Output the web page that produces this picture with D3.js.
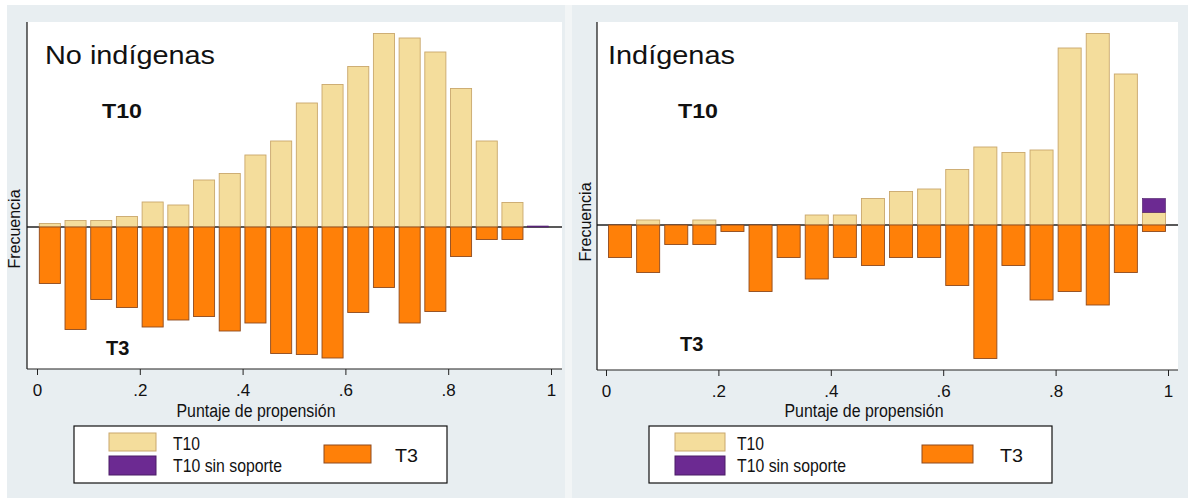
<!DOCTYPE html>
<html>
<head>
<meta charset="utf-8">
<script src="https://cdn.jsdelivr.net/npm/d3@7"></script>
<style>
  html, body { margin: 0; padding: 0; background: #ffffff; }
  svg { display: block; }
  text { font-family: "Liberation Sans", Arial, Helvetica, sans-serif; fill: #111; }
</style>
</head>
<body>
<svg id="chart" width="1188" height="502"></svg>
<script>
// ---------------- DATA ----------------
const binMid = [0.025, 0.075, 0.125, 0.175, 0.225, 0.275, 0.325, 0.375, 0.425, 0.475,
                0.525, 0.575, 0.625, 0.675, 0.725, 0.775, 0.825, 0.875, 0.925, 0.975];
const xTicks = [0, 0.2, 0.4, 0.6, 0.8, 1];
const xTickLabels = ["0", ".2", ".4", ".6", ".8", "1"];
const panelTitles = ["No indígenas", "Indígenas"];
const legendLabels = ["T10", "T10 sin soporte", "T3"];
const xTitle = "Puntaje de propensión";
const yTitle = "Frecuencia";

// No indígenas (density, T10 upward, T3 downward)
const noIndT10   = [0.07, 0.13, 0.13, 0.21, 0.50, 0.44, 0.94, 1.07, 1.44, 1.72,
                    2.48, 2.85, 3.21, 3.87, 3.78, 3.50, 2.77, 1.72, 0.49, 0.00];
const noIndT10ss = [0, 0, 0, 0, 0, 0, 0, 0, 0, 0, 0, 0, 0, 0, 0, 0, 0, 0, 0, 0.02];
const noIndT3    = [1.13, 2.05, 1.45, 1.61, 2.00, 1.86, 1.79, 2.08, 1.92, 2.53,
                    2.55, 2.62, 1.71, 1.21, 1.92, 1.69, 0.59, 0.25, 0.25, 0.00];

// Indígenas
const indT10   = [0.00, 0.10, 0.00, 0.10, 0.00, 0.00, 0.00, 0.20, 0.20, 0.53,
                  0.67, 0.72, 1.11, 1.56, 1.45, 1.50, 3.54, 3.83, 3.02, 0.25];
const indT10ss = [0, 0, 0, 0, 0, 0, 0, 0, 0, 0, 0, 0, 0, 0, 0, 0, 0, 0, 0, 0.28];
const indT3    = [0.65, 0.95, 0.39, 0.39, 0.13, 1.33, 0.65, 1.08, 0.65, 0.81,
                  0.65, 0.65, 1.21, 2.67, 0.81, 1.50, 1.33, 1.60, 0.95, 0.13];

// ---------------- STYLE / LAYOUT ----------------
const C = {
  bg: "#e8eef1", gap: "#f2f5f6",
  t10: "#f4dd9c", t10s: "#c9a76c",
  ss: "#6c2a92", sss: "#4b1d66",
  t3: "#ff8008", t3s: "#8e4a1e"
};
const binHalf = 0.0205;

const panels = [
  { title: panelTitles[0], t10: noIndT10, ss: noIndT10ss, t3: noIndT3,
    bg: [7, 5, 558, 493],
    plot: { l: 27, r: 562, t: 22, b: 369 }, xr: [37, 551], yd: [-2.84, 4.10],
    titlePos: [45, 64, 170], t10Lab: [102, 118, 40], t3Lab: [106, 355],
    yTitlePos: [20, 229], xTitlePos: [256, 417],
    legend: { x: 74, y: 426, w: 373, h: 57, sw1: [109, 433, 47, 18], sw2: [109, 456, 47, 19],
              tx: 173, sw3: [324, 445, 47, 18], t3x: 395 } },
  { title: panelTitles[1], t10: indT10, ss: indT10ss, t3: indT3,
    bg: [572, 5, 616, 493],
    plot: { l: 597, r: 1178, t: 22, b: 370 }, xr: [606, 1168], yd: [-2.90, 4.06],
    titlePos: [608, 64, 127], t10Lab: [678, 118, 40], t3Lab: [680, 351],
    yTitlePos: [591, 222], xTitlePos: [864, 417],
    legend: { x: 649, y: 426, w: 403, h: 57, sw1: [675, 433, 50, 18], sw2: [675, 456, 50, 19],
              tx: 737, sw3: [922, 445, 51, 18], t3x: 1000 } }
];

const svg = d3.select("#chart");
// gap strip between graphs
svg.append("rect").attr("x", 565).attr("y", 5).attr("width", 7).attr("height", 493).attr("fill", C.gap);

panels.forEach(p => {
  const g = svg.append("g");
  g.append("rect").attr("x", p.bg[0]).attr("y", p.bg[1]).attr("width", p.bg[2]).attr("height", p.bg[3])
    .attr("fill", C.bg);
  // plot region
  g.append("rect").attr("x", p.plot.l).attr("y", p.plot.t)
    .attr("width", p.plot.r - p.plot.l).attr("height", p.plot.b - p.plot.t).attr("fill", "#fff");

  const x = d3.scaleLinear().domain([0, 1]).range(p.xr);
  const y = d3.scaleLinear().domain(p.yd).range([p.plot.b, p.plot.t]);

  // zero baseline (under bars)
  g.append("line").attr("x1", p.plot.l).attr("x2", p.plot.r)
    .attr("y1", y(0)).attr("y2", y(0)).attr("stroke", "#222").attr("stroke-width", 1.3);

  const rows = binMid.map((m, i) => ({ m, t10: p.t10[i], ss: p.ss[i], t3: p.t3[i] }));

  // T10 bars (upwards)
  g.selectAll(".t10").data(rows.filter(d => d.t10 > 0)).join("rect")
    .attr("x", d => x(d.m - binHalf)).attr("width", d => x(d.m + binHalf) - x(d.m - binHalf))
    .attr("y", d => y(d.t10)).attr("height", d => y(0) - y(d.t10))
    .attr("fill", C.t10).attr("stroke", C.t10s).attr("stroke-width", 0.9);
  // T10 sin soporte (stacked on top of T10)
  g.selectAll(".ss").data(rows.filter(d => d.ss > 0)).join("rect")
    .attr("x", d => x(d.m - binHalf)).attr("width", d => x(d.m + binHalf) - x(d.m - binHalf))
    .attr("y", d => y(d.t10 + d.ss)).attr("height", d => Math.max(1, y(d.t10) - y(d.t10 + d.ss)))
    .attr("fill", C.ss).attr("stroke", C.sss).attr("stroke-width", 0.6);
  // T3 bars (downwards)
  g.selectAll(".t3").data(rows.filter(d => d.t3 > 0)).join("rect")
    .attr("x", d => x(d.m - binHalf)).attr("width", d => x(d.m + binHalf) - x(d.m - binHalf))
    .attr("y", y(0)).attr("height", d => y(-d.t3) - y(0))
    .attr("fill", C.t3).attr("stroke", C.t3s).attr("stroke-width", 0.9);

  // y axis line
  g.append("line").attr("x1", p.plot.l).attr("x2", p.plot.l).attr("y1", p.plot.t).attr("y2", p.plot.b)
    .attr("stroke", "#111").attr("stroke-width", 1.2);

  // x axis
  const ax = g.append("g").attr("transform", `translate(0,${p.plot.b})`)
    .call(d3.axisBottom(x).tickValues(xTicks).tickFormat((d, i) => xTickLabels[i])
      .tickSize(6).tickPadding(9).tickSizeOuter(0));
  ax.select(".domain").attr("d", `M${p.plot.l},0H${p.plot.r}`).attr("stroke", "#222").attr("stroke-width", 1.2);
  ax.selectAll(".tick line").attr("stroke", "#222");
  ax.selectAll(".tick text").attr("font-size", 17).attr("fill", "#111")
    .attr("font-family", '"Liberation Sans", Arial, sans-serif');

  // titles / labels
  g.append("text").attr("x", p.titlePos[0]).attr("y", p.titlePos[1]).attr("font-size", 25)
    .attr("textLength", p.titlePos[2]).attr("lengthAdjust", "spacingAndGlyphs").text(p.title);
  g.append("text").attr("x", p.t10Lab[0]).attr("y", p.t10Lab[1]).attr("font-size", 20).attr("font-weight", "bold")
    .attr("textLength", p.t10Lab[2]).attr("lengthAdjust", "spacingAndGlyphs").text(legendLabels[0]);
  g.append("text").attr("x", p.t3Lab[0]).attr("y", p.t3Lab[1]).attr("font-size", 20).attr("font-weight", "bold")
    .text(legendLabels[2]);
  g.append("text").attr("transform", `translate(${p.yTitlePos[0]},${p.yTitlePos[1]}) rotate(-90)`)
    .attr("text-anchor", "middle").attr("font-size", 16).text(yTitle);
  g.append("text").attr("x", p.xTitlePos[0]).attr("y", p.xTitlePos[1]).attr("text-anchor", "middle")
    .attr("font-size", 18).attr("textLength", 159).attr("lengthAdjust", "spacingAndGlyphs").text(xTitle);

  // legend
  const L = p.legend;
  g.append("rect").attr("x", L.x).attr("y", L.y).attr("width", L.w).attr("height", L.h)
    .attr("fill", "#fff").attr("stroke", "#111").attr("stroke-width", 1.2);
  g.append("rect").attr("x", L.sw1[0]).attr("y", L.sw1[1]).attr("width", L.sw1[2]).attr("height", L.sw1[3])
    .attr("fill", C.t10).attr("stroke", C.t10s);
  g.append("rect").attr("x", L.sw2[0]).attr("y", L.sw2[1]).attr("width", L.sw2[2]).attr("height", L.sw2[3])
    .attr("fill", C.ss).attr("stroke", C.sss);
  g.append("rect").attr("x", L.sw3[0]).attr("y", L.sw3[1]).attr("width", L.sw3[2]).attr("height", L.sw3[3])
    .attr("fill", C.t3).attr("stroke", C.t3s);
  g.append("text").attr("x", L.tx).attr("y", 450).attr("font-size", 19)
    .attr("textLength", 27).attr("lengthAdjust", "spacingAndGlyphs").text(legendLabels[0]);
  g.append("text").attr("x", L.tx).attr("y", 472).attr("font-size", 19)
    .attr("textLength", 109).attr("lengthAdjust", "spacingAndGlyphs").text(legendLabels[1]);
  g.append("text").attr("x", L.t3x).attr("y", 462).attr("font-size", 19)
    .attr("textLength", 23).attr("lengthAdjust", "spacingAndGlyphs").text(legendLabels[2]);
});
</script>
</body>
</html>
